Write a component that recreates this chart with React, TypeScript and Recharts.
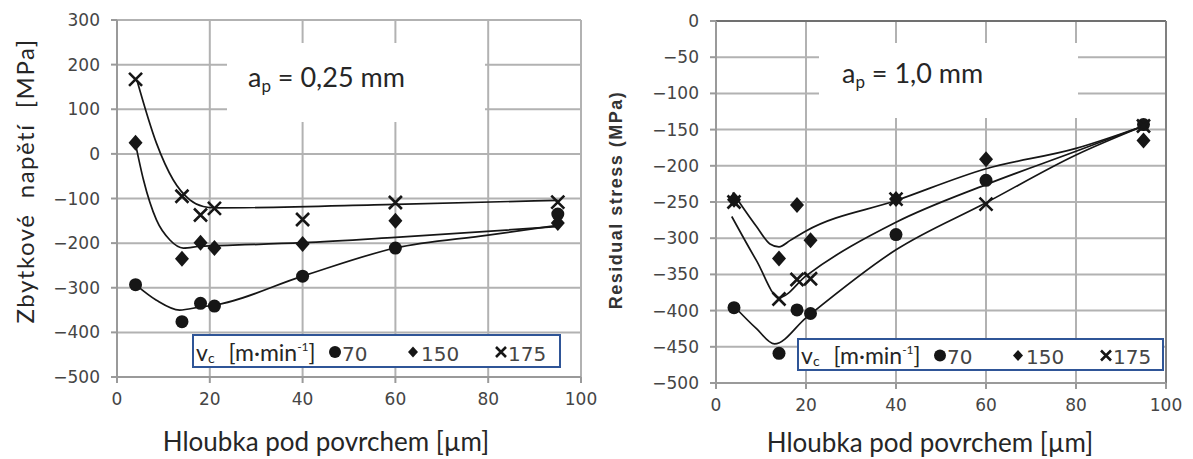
import React from 'react';
import {
  ComposedChart,
  Line,
  Scatter,
  XAxis,
  YAxis,
  CartesianGrid,
  ReferenceLine,
  Legend,
  Label,
} from 'recharts';

// hloubka pod povrchem [µm]
const depthTicks = [0, 20, 40, 60, 80, 100];
const depths = [4, 14, 18, 21, 40, 60, 95];
const vcLabels = ['70', '150', '175'];

// a_p = 0,25 mm  (zbytkové napětí v MPa)
const leftTicks = [300, 200, 100, 0, -100, -200, -300, -400, -500];
const left70 = [-293, -376, -335, -341, -274, -211, -135];
const left150 = [25, -235, -199, -211, -202, -150, -155];
const left175 = [167, -95, -137, -122, -147, -109, -108];

// prolozene krivky
const leftFit70Depth = [4, 8.5, 13.5, 18, 21, 40, 60, 80, 95];
const leftFit70Stress = [-293, -328, -350, -343, -339, -274, -211, -182, -160];
const leftFit150Depth = [4, 5.7, 8.5, 11.4, 14.3, 18, 21, 40, 60, 95];
const leftFit150Stress = [22, -58, -148, -193, -211, -207, -206, -199, -187, -163];
const leftFit175Depth = [4.3, 8.5, 12.1, 15.7, 18.6, 21, 60, 95];
const leftFit175Stress = [165, 24, -58, -103, -118, -121, -113, -104];

// a_p = 1,0 mm
const rightTicks = [0, -50, -100, -150, -200, -250, -300, -350, -400, -450, -500];
const right70 = [-396, -459, -399, -404, -295, -220, -143];
const right150 = [-247, -328, -254, -303, -246, -191, -165];
const right175 = [-250, -384, -357, -356, -246, -253, -145];

const rightFit70Depth = [4, 9, 13, 20, 40, 60, 80, 95];
const rightFit70Stress = [-394, -425, -446, -410, -316, -251, -185, -145];
const rightFit150Depth = [3.7, 9, 12, 14, 16.5, 20, 40, 60, 80, 95];
const rightFit150Stress = [-237, -284, -308, -312, -303, -290, -248, -204, -176, -145];
const rightFit175Depth = [3.5, 9, 14, 20, 40, 60, 80, 95];
const rightFit175Stress = [-270, -331, -382, -352, -278, -226, -180, -145];

const zip = (xs: number[], ys: number[]) => xs.map((x, i) => ({ x, y: ys[i] }));

const INK = '#161616';
const GRID = '#b2b2b2';
const AXIS = '#9a9a9a';
const TEXT = '#262626';
const TICK = '#454545';

const diamondPath = (cx: number, cy: number, w: number, h: number) =>
  `M${cx},${cy - h}L${cx + w},${cy}L${cx},${cy + h}L${cx - w},${cy}Z`;
const crossPath = (cx: number, cy: number, s: number) =>
  `M${cx - s},${cy - s}L${cx + s},${cy + s}M${cx + s},${cy - s}L${cx - s},${cy + s}`;

const DotShape = (p: any) => <circle cx={p.cx} cy={p.cy} r={6.5} fill={INK} />;
const DiamondShape = (p: any) => <path d={diamondPath(p.cx, p.cy, 7, 8)} fill={INK} />;
const CrossShape = (p: any) => (
  <path d={crossPath(p.cx, p.cy, 6.5)} stroke={INK} strokeWidth={2.6} fill="none" />
);

const fmt = (v: number) => (v < 0 ? `\u2212${-v}` : `${v}`);

function LegendBox({ w, h }: { w: number; h: number }) {
  const base = h - 7;
  return (
    <svg width={w} height={h} style={{ display: 'block' }}>
      <rect x={1} y={1} width={w - 2} height={h - 2} fill="#fff" stroke="#2f5597" strokeWidth={2} />
      <text x={4} y={base} fontFamily="Lato" fontSize={23} fill={TEXT} style={{ whiteSpace: 'pre' }}>
        v<tspan fontSize={14} dy={2}>c</tspan>
        <tspan dy={-2} dx={14}>[m·min</tspan>
        <tspan fontSize={12} dy={-10}>-1</tspan>
        <tspan dy={10}>]</tspan>
      </text>
      <circle cx={143} cy={h / 2 + 1} r={6} fill={INK} />
      <text x={150} y={base} fontFamily="DejaVu Sans" fontSize={20} fill={TICK}>{vcLabels[0]}</text>
      <path d={diamondPath(221, h / 2 + 1, 5, 5.5)} fill={INK} />
      <text x={229} y={base} fontFamily="DejaVu Sans" fontSize={20} fill={TICK}>{vcLabels[1]}</text>
      <path d={crossPath(309, h / 2 + 1, 5)} stroke={INK} strokeWidth={2.6} fill="none" />
      <text x={316} y={base} fontFamily="DejaVu Sans" fontSize={20} fill={TICK}>{vcLabels[2]}</text>
    </svg>
  );
}

function Panel(props: any) {
  const {
    left, width, margin, yWidth, domain, yTicks, pts, fits, yLabel, xLabelX, xLabelY,
    legendPos, note, noteBox, frame,
  } = props;
  return (
    <div style={{ position: 'absolute', left, top: 0, width, height: 459 }}>
      <ComposedChart width={width} height={459} margin={margin}>
        <CartesianGrid stroke={GRID} strokeWidth={2} />
        <XAxis
          type="number"
          dataKey="x"
          domain={[0, 100]}
          ticks={depthTicks}
          height={40}
          tickSize={6}
          tickMargin={10}
          axisLine={{ stroke: AXIS, strokeWidth: 2 }}
          tickLine={{ stroke: AXIS, strokeWidth: 2 }}
          tick={{ fill: TICK, fontSize: 17, fontFamily: 'DejaVu Sans' }}
        >
          <Label
            content={() => (
              <text x={xLabelX} y={xLabelY} textAnchor="middle" fontFamily="Lato" fontSize={26} fill={TEXT}>
                Hloubka pod povrchem [µm]
              </text>
            )}
          />
        </XAxis>
        <YAxis
          type="number"
          dataKey="y"
          domain={domain}
          ticks={yTicks}
          width={yWidth}
          interval={0}
          tickSize={6}
          tickMargin={11}
          tickFormatter={fmt}
          axisLine={{ stroke: AXIS, strokeWidth: 2 }}
          tickLine={{ stroke: AXIS, strokeWidth: 2 }}
          tick={{ fill: TICK, fontSize: 17, fontFamily: 'DejaVu Sans' }}
        >
          <Label content={() => yLabel} />
        </YAxis>
        {frame && <ReferenceLine y={domain[1]} stroke="#707070" strokeWidth={2} />}
        {frame && <ReferenceLine x={100} stroke="#808080" strokeWidth={2} />}
        <Line data={fits[0]} dataKey="y" type="monotone" stroke={INK} strokeWidth={1.7} dot={false} isAnimationActive={false} />
        <Line data={fits[1]} dataKey="y" type="monotone" stroke={INK} strokeWidth={1.7} dot={false} isAnimationActive={false} />
        <Line data={fits[2]} dataKey="y" type="monotone" stroke={INK} strokeWidth={1.7} dot={false} isAnimationActive={false} />
        <Scatter name={vcLabels[0]} data={pts[0]} dataKey="y" shape={DotShape} isAnimationActive={false} />
        <Scatter name={vcLabels[1]} data={pts[1]} dataKey="y" shape={DiamondShape} isAnimationActive={false} />
        <Scatter name={vcLabels[2]} data={pts[2]} dataKey="y" shape={CrossShape} isAnimationActive={false} />
        <Legend
          layout="vertical"
          align="center"
          verticalAlign="middle"
          wrapperStyle={{ left: legendPos.left, top: legendPos.top, width: legendPos.w, height: legendPos.h }}
          content={() => <LegendBox w={legendPos.w} h={legendPos.h} />}
        />
      </ComposedChart>
      <svg
        width={noteBox.w}
        height={noteBox.h}
        style={{ position: 'absolute', left: noteBox.left, top: noteBox.top }}
      >
        <rect width={noteBox.w} height={noteBox.h} fill="#fff" />
        <text x={noteBox.tx} y={noteBox.ty} fontFamily="Lato" fontSize={27} fill={TEXT} style={{ whiteSpace: 'pre' }}>
          a<tspan fontSize={17} dy={5}>p</tspan>
          <tspan dy={-5}>{note}</tspan>
        </text>
      </svg>
    </div>
  );
}

export default function App() {
  return (
    <div style={{ position: 'absolute', left: 0, top: 0, width: 1193, height: 459, background: '#fff' }}>
      <Panel
        left={0}
        width={600}
        margin={{ top: 20, right: 19, left: 0, bottom: 42 }}
        yWidth={117}
        domain={[-500, 300]}
        yTicks={leftTicks}
        pts={[zip(depths, left70), zip(depths, left150), zip(depths, left175)]}
        fits={[
          zip(leftFit70Depth, leftFit70Stress),
          zip(leftFit150Depth, leftFit150Stress),
          zip(leftFit175Depth, leftFit175Stress),
        ]}
        yLabel={
          <text
            x={24}
            y={181}
            transform="rotate(-90, 24, 181)"
            textAnchor="middle"
            dominantBaseline="central"
            fontFamily="Lato"
            fontSize={24}
            fill={TEXT}
            style={{ whiteSpace: 'pre', letterSpacing: 1.5 }}
          >
            Zbytkové  napětí  [MPa]
          </text>
        }
        xLabelX={326}
        xLabelY={451}
        legendPos={{ left: 192, top: 334, w: 369, h: 34 }}
        note=" = 0,25 mm"
        noteBox={{ left: 227, top: 43, w: 258, h: 79, tx: 21, ty: 44 }}
        frame={false}
      />
      <Panel
        left={600}
        width={593}
        margin={{ top: 21, right: 27, left: 0, bottom: 36 }}
        yWidth={116}
        domain={[-500, 0]}
        yTicks={rightTicks}
        pts={[zip(depths, right70), zip(depths, right150), zip(depths, right175)]}
        fits={[
          zip(rightFit70Depth, rightFit70Stress),
          zip(rightFit150Depth, rightFit150Stress),
          zip(rightFit175Depth, rightFit175Stress),
        ]}
        yLabel={
          <text
            x={16}
            y={200}
            transform="rotate(-90, 16, 200)"
            textAnchor="middle"
            dominantBaseline="central"
            fontFamily="Liberation Sans"
            fontWeight="bold"
            fontSize={18}
            fill="#333"
            style={{ letterSpacing: 1.5 }}
          >
            Residual stress (MPa)
          </text>
        }
        xLabelX={330}
        xLabelY={452}
        legendPos={{ left: 197, top: 338, w: 367, h: 33 }}
        note=" = 1,0 mm"
        noteBox={{ left: 219, top: 43, w: 259, h: 75, tx: 23, ty: 40 }}
        frame={true}
      />
    </div>
  );
}
